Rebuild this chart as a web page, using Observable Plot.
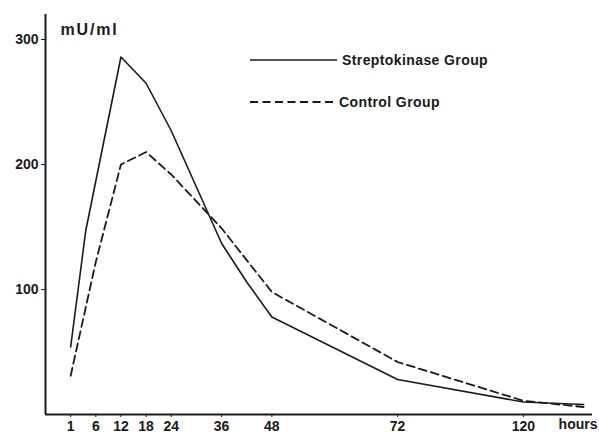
<!DOCTYPE html>
<html>
<head>
<meta charset="utf-8">
<script src="https://cdn.jsdelivr.net/npm/d3@7"></script>
<script src="https://cdn.jsdelivr.net/npm/@observablehq/plot@0.6"></script>
<style>
  body { margin: 0; background: #fff; }
  #wrap { position: relative; width: 599px; height: 435px; font-family: "Liberation Sans", Arial, sans-serif; color: #1a1a1a; }
  .legend { position: absolute; left: 250px; top: 50px; font-size: 14px; font-weight: bold; letter-spacing: 0.4px; }
  .legend .row { display: flex; align-items: center; height: 20px; }
  .legend .row + .row { margin-top: 22px; }
  .legend svg { display: block; }
</style>
</head>
<body>
<div id="wrap"></div>
<script>
// Printed time axis (hours) and its non-uniform layout on the original chart
const tickHours = [1, 6, 12, 18, 24, 36, 48, 72, 120];
const tickSlots = [0, 1, 2, 3, 4, 6, 8, 13, 18];
const yTicks = [100, 200, 300];

// Streptokinase group (solid)
const strepHours  = [1, 4, 12, 18, 24, 36, 42, 48, 72, 120, 143];
const strepValues = [54, 147, 286, 265, 227, 137, 106, 78, 28, 10, 8];

// Control group (dashed)
const controlHours  = [1, 6, 12, 18, 24, 36, 48, 72, 120, 143];
const controlValues = [31, 122, 200, 210, 192, 149, 98, 42, 11, 6];

const groups = ["Streptokinase Group", "Control Group"];
const xDomain = [-1, 20.75];
const yDomain = [0, 320];

const toSlot = d3.scaleLinear().domain(tickHours).range(tickSlots);
const strep = strepHours.map((h, i) => ({ h, v: strepValues[i] }));
const control = controlHours.map((h, i) => ({ h, v: controlValues[i] }));

const ink = "#1a1a1a";

const chart = Plot.plot({
  width: 599,
  height: 435,
  marginLeft: 45,
  marginRight: 7,
  marginTop: 14,
  marginBottom: 21,
  style: { fontFamily: '"Liberation Sans", Arial, sans-serif', fontSize: "14px", fontWeight: "bold", color: ink, background: "#fff", overflow: "visible" },
  x: { domain: xDomain, axis: null, label: null },
  y: { domain: yDomain, axis: null, label: null },
  marks: [
    Plot.ruleX([xDomain[0]], { stroke: ink, strokeWidth: 2 }),
    Plot.ruleY([0], { stroke: ink, strokeWidth: 2 }),
    Plot.axisY(yTicks, { label: null, tickSize: 4, tickPadding: 3, stroke: ink, fill: ink, fontSize: 14 }),
    Plot.axisX(tickSlots, { label: null, tickSize: 3, tickPadding: 4, stroke: ink, fill: ink, fontSize: 14,
      tickFormat: d => String(tickHours[tickSlots.indexOf(d)]) }),
    Plot.text(["hours"], { frameAnchor: "bottom-right", textAnchor: "end", dx: 5, dy: 14, fontSize: 14, fill: ink }),
    Plot.text(["mU/ml"], { frameAnchor: "top-left", textAnchor: "start", dx: 15, dy: 9, fontSize: 16, fill: ink, className: "unit-label" }),
    Plot.line(strep, { x: d => toSlot(d.h), y: "v", stroke: ink, strokeWidth: 1.6 }),
    Plot.line(control, { x: d => toSlot(d.h), y: "v", stroke: ink, strokeWidth: 1.8, strokeDasharray: "8,4.5" })
  ]
});

d3.select(chart).selectAll(".unit-label text").style("letter-spacing", "1.8px");

const wrap = document.getElementById("wrap");
wrap.appendChild(chart);

const legend = document.createElement("div");
legend.className = "legend";
legend.innerHTML = groups.map((g, i) => `
  <div class="row">
    <svg width="${i === 0 ? 92 : 89}" height="20"><line x1="0" x2="${i === 0 ? 87 : 85}" y1="10" y2="10" stroke="${ink}" stroke-width="${i === 0 ? 1.6 : 1.8}" ${i === 1 ? 'stroke-dasharray="8,4.5"' : ''}/></svg>
    <span>${g}</span>
  </div>`).join("");
wrap.appendChild(legend);
</script>
</body>
</html>
